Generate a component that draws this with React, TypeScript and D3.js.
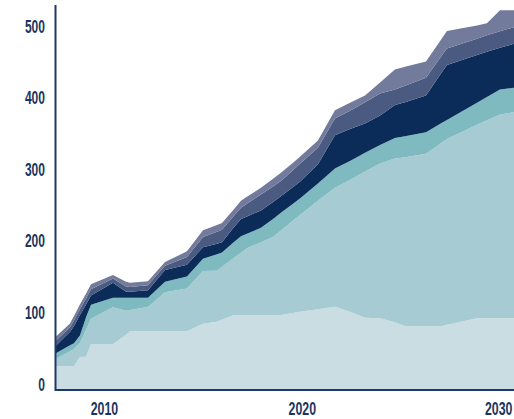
import React from "react";
import * as d3 from "d3";

const years = [2007.5, 2008.26, 2008.46, 2008.76, 2009.07, 2009.32, 2010.43, 2011.09, 2011.29, 2012.2, 2013.06, 2014.17, 2014.98, 2015.69, 2015.94, 2016.5, 2016.9, 2017.2, 2017.91, 2018.52, 2018.92, 2019.53, 2019.88, 2020.79, 2021.65, 2022.41, 2023.17, 2023.93, 2024.68, 2025.19, 2026.25, 2027.06, 2027.31, 2028.83, 2029.33, 2029.99, 2030.75];

const seriesA = [33.5, 33.5, 33.5, 46.1, 46.5, 64.2, 64.2, 77.2, 82.0, 82.0, 82.0, 82.0, 92.6, 95.4, 98.3, 104.6, 104.7, 104.7, 104.7, 104.7, 104.7, 107.5, 109.4, 113.0, 116.3, 109.4, 101.0, 100.1, 94.7, 89.4, 89.4, 89.4, 91.1, 100.1, 100.1, 100.1, 100.1];
const seriesB = [9.5, 20.7, 23.7, 19.6, 37.6, 35.2, 51.4, 33.7, 29.9, 33.9, 54.5, 59.8, 73.6, 71.2, 73.9, 79.1, 87.2, 93.3, 101.8, 109.2, 118.3, 129.5, 135.3, 151.4, 166.2, 184.2, 204.3, 216.5, 228.9, 236.0, 240.8, 256.6, 259.8, 270.5, 276.8, 284.5, 288.5];
const seriesC = [7.8, 8.2, 8.2, 10.5, 17.6, 19.8, 13.3, 18.0, 17.0, 13.0, 14.7, 16.9, 17.3, 23.2, 20.0, 21.9, 22.8, 20.3, 20.1, 25.0, 24.7, 23.3, 23.0, 24.0, 27.1, 26.5, 26.4, 25.6, 28.4, 29.1, 30.0, 27.4, 26.5, 30.9, 32.5, 35.3, 34.1];
const seriesD = [9.9, 19.0, 24.0, 28.5, 17.9, 12.8, 20.8, 8.4, 8.4, 10.5, 16.5, 16.3, 16.1, 14.5, 14.1, 20.4, 24.3, 24.3, 24.3, 23.9, 23.2, 23.2, 23.2, 27.2, 46.5, 44.7, 40.8, 41.3, 46.1, 47.5, 51.5, 70.9, 76.7, 66.5, 63.1, 58.2, 61.5];
const seriesE = [7.0, 6.4, 7.8, 8.1, 8.4, 8.8, 6.1, 7.5, 6.8, 7.0, 6.1, 10.8, 14.2, 16.8, 17.7, 16.2, 15.8, 17.7, 22.3, 21.5, 21.2, 23.7, 25.1, 22.9, 23.3, 25.6, 29.6, 30.9, 21.9, 23.3, 24.6, 23.5, 23.2, 23.0, 23.2, 23.2, 23.2];
const seriesF = [5.6, 5.3, 6.3, 6.6, 7.0, 7.1, 5.0, 6.3, 5.7, 5.7, 5.0, 8.0, 9.6, 9.4, 9.2, 9.1, 9.5, 9.8, 9.4, 10.9, 11.6, 10.5, 9.8, 10.2, 11.6, 10.9, 9.6, 15.4, 27.9, 26.3, 22.9, 23.7, 24.3, 18.4, 16.8, 29.3, 23.3];

const keys = ["a", "b", "c", "d", "e", "f"];
const colors = ["#c9dde3", "#a6cbd3", "#7fbac0", "#0b2c58", "#4a5a80", "#737b9c"];
const yTicks = [0, 100, 200, 300, 400, 500];
const xTicks = [2010, 2020, 2030];

export default function App() {
  const W = 514, H = 419;
  const x = d3.scaleLinear().domain([2007.5, 2030.75]).range([55, 515]);
  const y = d3.scaleLinear().domain([0, 538]).range([390, 5]);
  const rows = years.map((yr, i) => ({
    year: yr,
    a: seriesA[i], b: seriesB[i], c: seriesC[i], d: seriesD[i], e: seriesE[i], f: seriesF[i],
  }));
  const stacked = d3.stack<any>().keys(keys)(rows);
  const area = d3.area<any>()
    .x((d) => x(d.data.year))
    .y0((d) => y(d[0]))
    .y1((d) => y(d[1]));
  const font = "'Liberation Sans', Arial, sans-serif";
  const txt = "#1b355f";
  const axis = "#1c3a68";
  return (
    <svg width={W} height={H} style={{ position: "absolute", left: 0, top: 0, display: "block" }}>
      <rect width={W} height={H} fill="#ffffff" />
      {stacked.map((s, i) => (
        <path key={keys[i]} d={area(s) || ""} fill={colors[i]} />
      ))}
      <line x1={55.5} x2={55.5} y1={5} y2={391} stroke={axis} strokeWidth={2} />
      <line x1={55} x2={W} y1={390} y2={390} stroke={axis} strokeWidth={2} />
      {yTicks.map((t) => (
        <text key={t} transform={`translate(45,${y(t) + 0.5}) scale(0.65,1)`} textAnchor="end"
          fontFamily={font} fontWeight="bold" fontSize={18.5} fill={txt}>
          {String(t)}
        </text>
      ))}
      {xTicks.map((t) => (
        <text key={t} transform={`translate(${x(t) - (t === 2030 ? 1.5 : 0)},414.6) scale(0.65,1)`} textAnchor="middle"
          fontFamily={font} fontWeight="bold" fontSize={19} fill={txt}>
          {String(t)}
        </text>
      ))}
    </svg>
  );
}
